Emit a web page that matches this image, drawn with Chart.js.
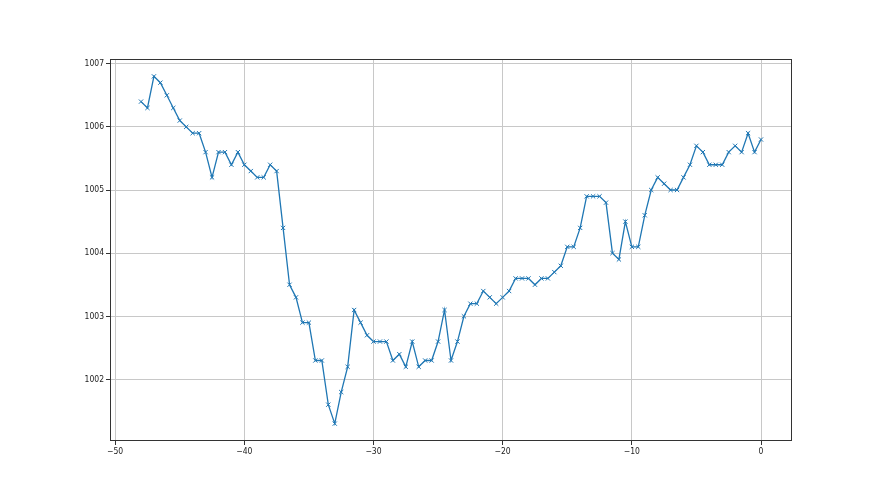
<!DOCTYPE html>
<html>
<head>
<meta charset="utf-8">
<script src="https://cdn.jsdelivr.net/npm/chart.js@4.4.0/dist/chart.umd.min.js"></script>
<style>
  body { margin: 0; background: #fff; }
  canvas { display: block; }
</style>
</head>
<body>
<canvas id="pressureChart" width="880" height="495"></canvas>
<script>
// x positions (every 0.5 from -48 to 0)
const xValues = [];
for (let i = 0; i <= 96; i++) xValues.push(-48 + i * 0.5);

const pressure = [
  1006.4, 1006.3, 1006.8, 1006.7, 1006.5, 1006.3, 1006.1, 1006.0, 1005.9, 1005.9,
  1005.6, 1005.2, 1005.6, 1005.6, 1005.4, 1005.6, 1005.4, 1005.3, 1005.2, 1005.2,
  1005.4, 1005.3, 1004.4, 1003.5, 1003.3, 1002.9, 1002.9, 1002.3, 1002.3, 1001.6,
  1001.3, 1001.8, 1002.2, 1003.1, 1002.9, 1002.7, 1002.6, 1002.6, 1002.6, 1002.3,
  1002.4, 1002.2, 1002.6, 1002.2, 1002.3, 1002.3, 1002.6, 1003.1, 1002.3, 1002.6,
  1003.0, 1003.2, 1003.2, 1003.4, 1003.3, 1003.2, 1003.3, 1003.4, 1003.6, 1003.6,
  1003.6, 1003.5, 1003.6, 1003.6, 1003.7, 1003.8, 1004.1, 1004.1, 1004.4, 1004.9,
  1004.9, 1004.9, 1004.8, 1004.0, 1003.9, 1004.5, 1004.1, 1004.1, 1004.6, 1005.0,
  1005.2, 1005.1, 1005.0, 1005.0, 1005.2, 1005.4, 1005.7, 1005.6, 1005.4, 1005.4,
  1005.4, 1005.6, 1005.7, 1005.6, 1005.9, 1005.6, 1005.8
];

const xTicks = [-50, -40, -30, -20, -10, 0];
const yTicks = [1002, 1003, 1004, 1005, 1006, 1007];

const tickFont = { family: 'DejaVu Sans Condensed', size: 8.5 };

// four spines around the plot area, like matplotlib
const frame = {
  id: 'frame',
  afterDraw(chart) {
    const a = chart.chartArea;
    const c = chart.ctx;
    c.save();
    c.strokeStyle = '#333';
    c.lineWidth = 1;
    c.strokeRect(a.left + 0.5, a.top + 0.5, a.right - a.left - 1, a.bottom - a.top - 1);
    c.restore();
  }
};

const bg = {
  id: 'bg',
  beforeDraw(chart) {
    const c = chart.ctx;
    c.save();
    c.fillStyle = '#fff';
    c.fillRect(0, 0, chart.width, chart.height);
    c.restore();
  }
};

const ctx = document.getElementById('pressureChart').getContext('2d');
new Chart(ctx, {
  type: 'line',
  data: {
    datasets: [{
      data: xValues.map((x, i) => ({ x: x, y: pressure[i] })),
      borderColor: '#1f77b4',
      borderWidth: 1.3,
      pointStyle: 'crossRot',
      pointRadius: 3,
      pointBorderWidth: 1,
      pointBorderColor: '#1f77b4',
      pointBackgroundColor: '#1f77b4',
      tension: 0,
      fill: false
    }]
  },
  options: {
    responsive: false,
    animation: false,
    devicePixelRatio: 1,
    layout: { padding: { left: 0, top: 59, right: 88, bottom: 0 } },
    plugins: {
      legend: { display: false },
      tooltip: { enabled: false }
    },
    scales: {
      x: {
        type: 'linear',
        min: -50.4,
        max: 2.4,
        afterBuildTicks: s => { s.ticks = xTicks.map(v => ({ value: v })); },
        afterFit: s => { s.height = 54; },
        grid: { color: '#c8c8c8', lineWidth: 1, tickColor: '#333', tickLength: 4 },
        border: { display: false },
        ticks: {
          font: tickFont,
          color: '#222',
          padding: 2,
          maxRotation: 0,
          callback: v => (v < 0 ? '\u2212' + Math.abs(v) : String(v))
        }
      },
      y: {
        type: 'linear',
        min: 1001.025,
        max: 1007.075,
        afterBuildTicks: s => { s.ticks = yTicks.map(v => ({ value: v })); },
        afterFit: s => { s.width = 110; },
        grid: { color: '#c8c8c8', lineWidth: 1, tickColor: '#333', tickLength: 4 },
        border: { display: false },
        ticks: {
          font: tickFont,
          color: '#222',
          padding: 2,
          callback: v => String(v)
        }
      }
    }
  },
  plugins: [bg, frame]
});
</script>
</body>
</html>
